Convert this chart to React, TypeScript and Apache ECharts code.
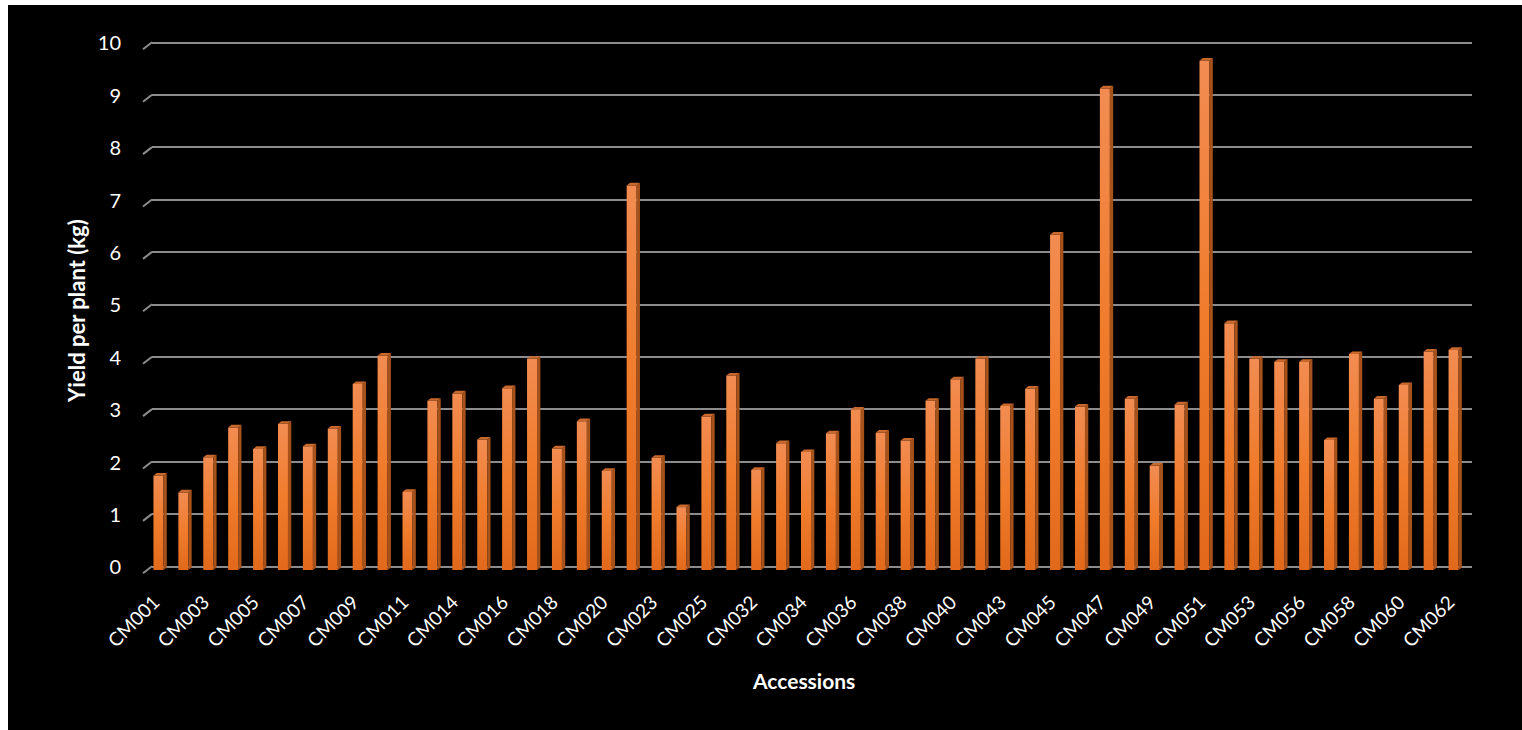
import React, { useEffect, useRef } from "react";
import * as echarts from "echarts";

const categories: string[] = [
  "CM001", "CM002", "CM003", "CM004", "CM005", "CM006", "CM007", "CM008", "CM009", "CM010",
  "CM011", "CM012", "CM014", "CM015", "CM016", "CM017", "CM018", "CM019", "CM020", "CM021",
  "CM023", "CM024", "CM025", "CM031", "CM032", "CM033", "CM034", "CM035", "CM036", "CM037",
  "CM038", "CM039", "CM040", "CM041", "CM043", "CM044", "CM045", "CM046", "CM047", "CM048",
  "CM049", "CM050", "CM051", "CM052", "CM053", "CM054", "CM056", "CM057", "CM058", "CM059",
  "CM060", "CM061", "CM062",
];

const yieldPerPlant: number[] = [
  1.8, 1.48, 2.15, 2.72, 2.31, 2.79, 2.36, 2.7, 3.55, 4.09,
  1.49, 3.23, 3.37, 2.49, 3.47, 4.03, 2.32, 2.84, 1.89, 7.34,
  2.14, 1.2, 2.93, 3.71, 1.91, 2.42, 2.25, 2.61, 3.06, 2.62,
  2.47, 3.23, 3.64, 4.03, 3.13, 3.46, 6.4, 3.12, 9.19, 3.27,
  1.99, 3.16, 9.72, 4.71, 4.03, 3.97, 3.97, 2.48, 4.12, 3.27,
  3.53, 4.17, 4.2,
];

const yTicks: number[] = [0, 1, 2, 3, 4, 5, 6, 7, 8, 9, 10];

const yTitle = "Yield per plant (kg)";
const xTitle = "Accessions";

const FONT = "Lato, 'Open Sans', sans-serif";
const GRID_COLOR = "#8c8c8c";

export default function App() {
  const ref = useRef<HTMLDivElement>(null);

  useEffect(() => {
    if (!ref.current) return;
    const chart = echarts.init(ref.current, undefined, { renderer: "svg" });

    const frontFill = new echarts.graphic.LinearGradient(0, 0, 0, 1, [
      { offset: 0, color: "#f28c52" },
      { offset: 0.5, color: "#f07c2c" },
      { offset: 1, color: "#e2691b" },
    ]);

    const titles: any[] = [
      {
        type: "text",
        id: "xTitle",
        left: 795 - 50,
        top: 677 - 12,
        style: { text: xTitle, fill: "#ffffff", font: `bold 21px ${FONT}` },
      },
      {
        type: "text",
        id: "yTitle",
        x: 68.5,
        y: 305.6,
        rotation: Math.PI / 2,
        style: {
          text: yTitle,
          fill: "#ffffff",
          font: `bold 22px ${FONT}`,
          align: "center",
          verticalAlign: "middle",
        },
      },
    ];

    chart.setOption({
      animation: false,
      backgroundColor: "#000000",
      grid: { left: 144, right: 50, top: 37.3, bottom: 163.7, containLabel: false },
      xAxis: {
        type: "category",
        data: categories,
        axisLine: { show: false },
        axisTick: { show: false },
        splitLine: { show: false },
        axisLabel: { show: false },
      },
      yAxis: {
        type: "value",
        min: 0,
        max: 10,
        interval: 1,
        axisLine: { show: false },
        axisTick: { show: false },
        splitLine: { show: true, lineStyle: { color: GRID_COLOR, width: 2 } },
        axisLabel: { color: "#ffffff", fontSize: 20, fontFamily: FONT, margin: 31 },
      },
      graphic: titles,
      series: [
        {
          type: "custom",
          name: "wallEdge",
          clip: false,
          silent: true,
          data: yTicks.map((t) => [0, t]),
          renderItem: (params: any, api: any) => {
            const p = api.coord([0, api.value(1)]);
            const left = params.coordSys.x;
            return {
              type: "line",
              shape: { x1: left - 9, y1: p[1] + 7, x2: left, y2: p[1] },
              style: { stroke: GRID_COLOR, lineWidth: 2 },
            };
          },
        },
        {
          type: "custom",
          name: "Yield",
          clip: false,
          data: yieldPerPlant.map((v, i) => [i, v]),
          renderItem: (params: any, api: any) => {
            const i = api.value(0);
            const v = api.value(1);
            const top = api.coord([i, v]);
            const base = api.coord([i, 0]);
            const cx = top[0];
            const drop = 3.7;
            const x0 = cx - 11;
            const x1 = cx - 1;
            const d = 3.3;
            const e = 2.6;
            const yt = top[1] + drop;
            const yb = base[1] + drop;
            return {
              type: "group",
              children: [
                {
                  type: "rect",
                  shape: { x: x0, y: yt, width: x1 - x0, height: yb - yt },
                  style: { fill: frontFill },
                },
                {
                  type: "polygon",
                  shape: { points: [[x1, yt], [x1 + d, yt - e], [x1 + d, yb - e], [x1, yb]] },
                  style: { fill: "#a8521b" },
                },
                {
                  type: "polygon",
                  shape: { points: [[x0, yt], [x0 + d, yt - e], [x1 + d, yt - e], [x1, yt]] },
                  style: { fill: "#c9682c" },
                },
              ],
            };
          },
        },
      ],
    });

    const labelEls: any[] = [];
    categories.forEach((name, idx) => {
      if (idx % 2 !== 0) return;
      const p = chart.convertToPixel({ gridIndex: 0 }, [idx, 0]) as number[];
      labelEls.push({
        type: "text",
        id: "lbl" + idx,
        x: p[0] - 9,
        y: p[1] + 32,
        rotation: Math.PI / 4,
        style: {
          text: name,
          fill: "#ffffff",
          font: `19px ${FONT}`,
          align: "right",
          verticalAlign: "middle",
        },
      });
    });
    chart.setOption({ graphic: [...titles, ...labelEls] });

    return () => chart.dispose();
  }, []);

  return (
    <div
      ref={ref}
      style={{ position: "absolute", left: 8, top: 5, width: 1514, height: 725 }}
    />
  );
}
